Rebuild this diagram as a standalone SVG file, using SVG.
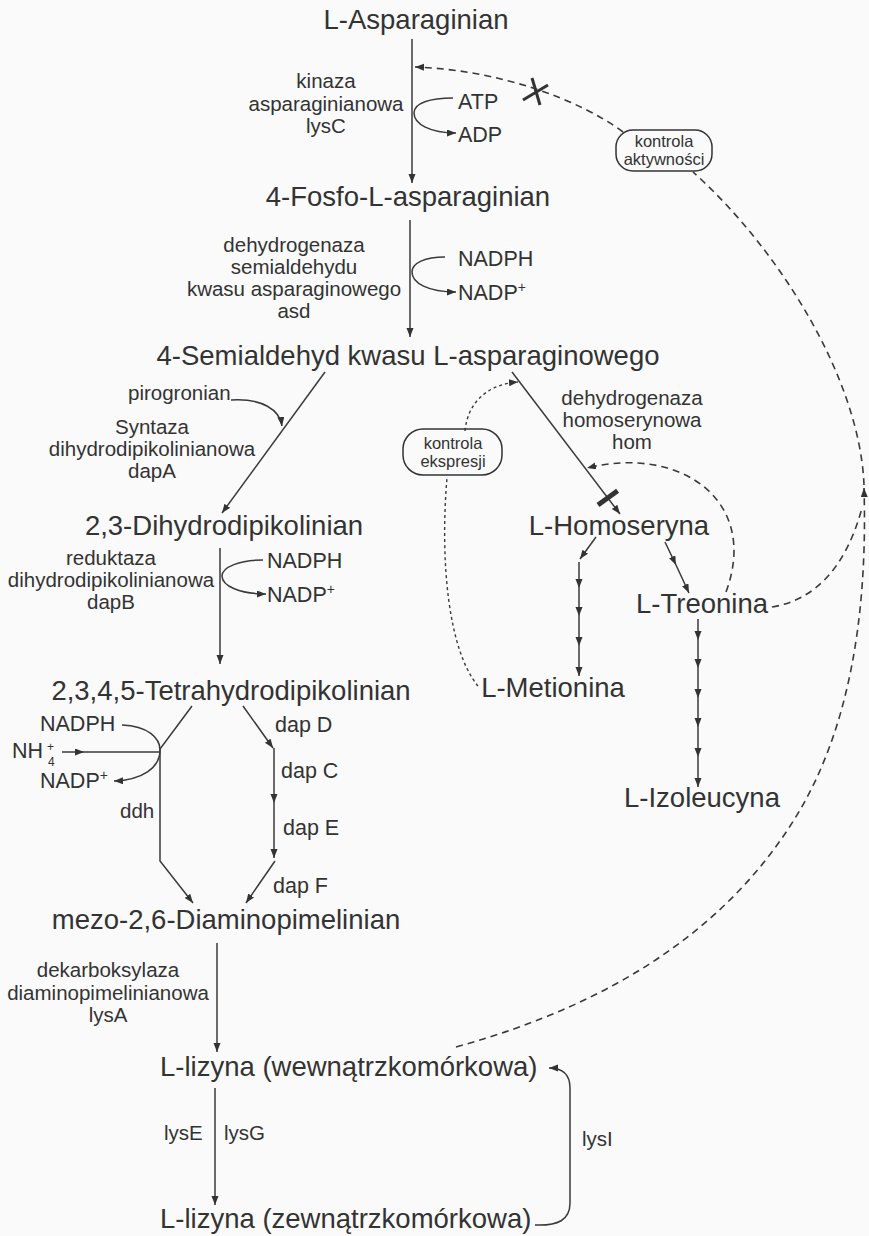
<svg xmlns="http://www.w3.org/2000/svg" width="869" height="1236" viewBox="0 0 869 1236">
<style>
text{font-family:"Liberation Sans",Arial,sans-serif;fill:#333}
.m{font-size:27.5px;text-anchor:middle}
.ms{font-size:27.5px}
.l{font-size:20.5px;text-anchor:middle}
.ls{font-size:20.5px}
.c{font-size:21.5px}
.b{font-size:16.5px;text-anchor:middle}
.ln{fill:none;stroke:#3a3a3a;stroke-width:1.5}
.a{marker-end:url(#arr)}
.am{marker-mid:url(#arr);marker-end:url(#arr)}
.d{fill:none;stroke:#3a3a3a;stroke-width:1.6;stroke-dasharray:7 5}
.dt{fill:none;stroke:#3a3a3a;stroke-width:1.4;stroke-dasharray:3 3}
.box{fill:none;stroke:#333;stroke-width:1.5}
</style>
<defs>
<marker id="arr" markerUnits="userSpaceOnUse" markerWidth="10" markerHeight="8" refX="9" refY="3.5" orient="auto">
<path d="M0,0 L9,3.5 L0,7 z" fill="#333"/>
</marker>
</defs>
<rect width="869" height="1236" fill="#fafafa"/>
<g id="connectors">
<path class="ln a" d="M412,39 V183"/>
<path class="ln a" d="M453,98 C430,98 414,103 414,113 C414,124 430,133 456,133"/>
<path class="ln a" d="M410,220 V337"/>
<path class="ln a" d="M445,257 C425,257 412,263 412,272 C412,283 428,292 456,292"/>
<path class="ln a" d="M325,372 L222,513"/>
<path class="ln a" d="M231,400 C262,398 280,410 282,426"/>
<path class="ln a" d="M512,372 L620,514"/>
<line x1="598" y1="505" x2="617.6" y2="490.8" stroke="#333" stroke-width="5"/>
<path class="dt a" d="M465,431 C468,400 490,384 518,382"/>
<path class="dt" d="M478,686 C448,650 440,560 447,478"/>
<path class="ln a" d="M596,537 L580,559"/>
<path class="ln am" d="M579,562 V588 V616 V646 V676"/>
<path class="ln am" d="M665,542 L676,565 L689,593"/>
<path class="ln am" d="M698,619 V640 V668 V698 V727 V757 V787"/>
<path class="d a" d="M726,592 C760,500 680,445 587,468"/>
<path class="d" d="M772,607 Q838,596 862,508"/>
<path class="d a" d="M456,1047 Q700,980 800,810 Q870,690 864,488"/>
<path class="d" d="M864,485 C860,380 780,250 693,172"/>
<path class="d a" d="M623,132 C580,100 500,70 415,67"/>
<line x1="523" y1="100" x2="548" y2="85" stroke="#333" stroke-width="3"/>
<line x1="532" y1="78" x2="540" y2="105" stroke="#333" stroke-width="3"/>
<path class="ln a" d="M220,548 V664"/>
<path class="ln a" d="M263,560 C240,560 222,567 222,576 C222,586 240,594 266,594"/>
<path class="ln a" d="M192,706 L160,749 L160,861 L193,903"/>
<path class="ln a" d="M122,725 C148,726 160,738 160,750 C160,768 142,780 114,781"/>
<path class="ln" style="marker-mid:url(#arr)" d="M62,752 L84,752 L160,752"/>
<path class="ln a" d="M243,706 L273,748"/>
<path class="ln a" d="M274,748 V803"/>
<path class="ln a" d="M274,803 V858"/>
<path class="ln a" d="M275,861 L246,903"/>
<path class="ln a" d="M217,943 V1052"/>
<path class="ln a" d="M215,1088 V1205"/>
<path class="ln a" d="M535,1225 C558,1226 570,1220 570,1203 V1088 C570,1074 563,1068 549,1068"/>
</g>
<g id="n-asparaginian"><text class="m" x="416" y="29">L-Asparaginian</text></g>
<g id="e-lysC"><text class="l" x="326" y="88">kinaza</text><text class="l" x="326" y="111">asparaginianowa</text><text class="l" x="326" y="133">lysC</text></g>
<g id="cof-atp"><text class="c" x="458" y="109">ATP</text><text class="c" x="458" y="142">ADP</text></g>
<g id="box-aktywnosci"><rect class="box" x="616" y="130" width="96" height="41" rx="17"/><text class="b" x="664" y="147">kontrola</text><text class="b" x="664" y="165">aktywności</text></g>
<g id="n-fosfo"><text class="m" x="408" y="206">4-Fosfo-L-asparaginian</text></g>
<g id="e-asd"><text class="l" x="294" y="252">dehydrogenaza</text><text class="l" x="294" y="274">semialdehydu</text><text class="l" x="294" y="296">kwasu asparaginowego</text><text class="l" x="294" y="318">asd</text></g>
<g id="cof-nadph1"><text class="c" x="458" y="266">NADPH</text><text class="c" x="458" y="300">NADP<tspan font-size="14" dy="-8">+</tspan></text></g>
<g id="n-semialdehyd"><text class="m" x="408" y="365">4-Semialdehyd kwasu L-asparaginowego</text></g>
<g id="e-dapA"><text class="ls" x="128" y="400">pirogronian</text><text class="l" x="152" y="434">Syntaza</text><text class="l" x="152" y="456">dihydrodipikolinianowa</text><text class="l" x="152" y="478">dapA</text></g>
<g id="e-hom"><text class="l" x="632" y="405">dehydrogenaza</text><text class="l" x="632" y="427">homoserynowa</text><text class="l" x="632" y="449">hom</text></g>
<g id="box-ekspresji"><rect class="box" x="403" y="429" width="99" height="46" rx="20"/><text class="b" x="453" y="449">kontrola</text><text class="b" x="453" y="467">ekspresji</text></g>
<g id="n-homoseryna"><text class="m" x="619" y="535">L-Homoseryna</text></g>
<g id="n-dihydro"><text class="m" x="224" y="535">2,3-Dihydrodipikolinian</text></g>
<g id="e-dapB"><text class="l" x="111" y="565">reduktaza</text><text class="l" x="111" y="587">dihydrodipikolinianowa</text><text class="l" x="111" y="609">dapB</text></g>
<g id="cof-nadph2"><text class="c" x="267" y="568">NADPH</text><text class="c" x="267" y="602">NADP<tspan font-size="14" dy="-8">+</tspan></text></g>
<g id="n-treonina"><text class="m" x="702" y="613">L-Treonina</text></g>
<g id="n-metionina"><text class="m" x="553" y="697">L-Metionina</text></g>
<g id="n-tetrahydro"><text class="m" x="231" y="700">2,3,4,5-Tetrahydrodipikolinian</text></g>
<g id="cof-ddh"><text class="c" x="40" y="731">NADPH</text><text class="c" x="12" y="758">NH<tspan x="47" y="751" font-size="12">+</tspan><tspan x="48" y="766" font-size="12">4</tspan></text><text class="c" x="40" y="788">NADP<tspan font-size="14" dy="-8">+</tspan></text><text class="ls" x="120" y="818">ddh</text></g>
<g id="e-dap"><text class="c" x="275" y="732">dap D</text><text class="c" x="281" y="778">dap C</text><text class="c" x="283" y="835">dap E</text><text class="c" x="273" y="893">dap F</text></g>
<g id="n-izoleucyna"><text class="m" x="702" y="807">L-Izoleucyna</text></g>
<g id="n-mezo"><text class="m" x="226" y="929">mezo-2,6-Diaminopimelinian</text></g>
<g id="e-lysA"><text class="l" x="108" y="977">dekarboksylaza</text><text class="l" x="108" y="1000">diaminopimelinianowa</text><text class="l" x="108" y="1022">lysA</text></g>
<g id="n-lizyna-wew"><text class="ms" x="160" y="1076">L-lizyna (wewnątrzkomórkowa)</text></g>
<g id="e-lysEG"><text class="ls" x="164" y="1140">lysE</text><text class="ls" x="224" y="1140">lysG</text><text class="ls" x="582" y="1146">lysI</text></g>
<g id="n-lizyna-zew"><text class="ms" x="160" y="1228">L-lizyna (zewnątrzkomórkowa)</text></g>
</svg>
